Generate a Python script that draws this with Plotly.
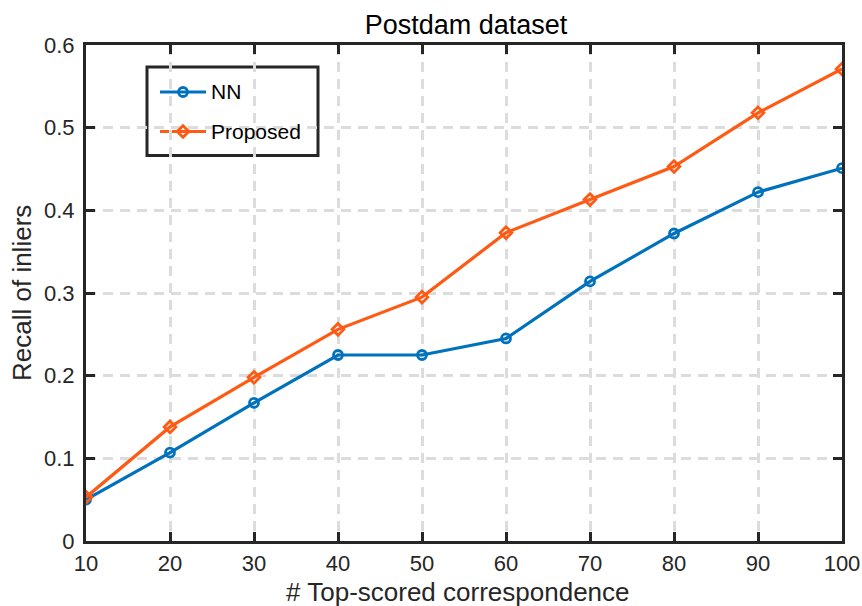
import plotly.graph_objects as go

x_vals = [10, 20, 30, 40, 50, 60, 70, 80, 90, 100]
nn_vals = [0.050, 0.107, 0.167, 0.225, 0.225, 0.245, 0.314, 0.372, 0.422, 0.451]
prop_vals = [0.053, 0.138, 0.198, 0.256, 0.295, 0.373, 0.413, 0.453, 0.518, 0.571]
x_ticks = [10, 20, 30, 40, 50, 60, 70, 80, 90, 100]
y_ticks = [0, 0.1, 0.2, 0.3, 0.4, 0.5, 0.6]
y_tick_text = ["0", "0.1", "0.2", "0.3", "0.4", "0.5", "0.6"]
series_names = ["NN", "Proposed"]

FONT = "Liberation Sans, Arial, sans-serif"
INK = "#262626"
BLUE = "#0072BD"
ORANGE = "#FF5A14"
W, H = 862, 606
ML, MR, MT, MB = 86, 20, 45, 65
PW, PH = W - ML - MR, H - MT - MB


def px(xp):
    return (xp - ML) / PW


def py(yp):
    return (H - MB - yp) / PH


circle = dict(symbol="circle-open", size=9, color=BLUE, line=dict(width=2.8, color=BLUE))
diamond = dict(symbol="diamond-open", size=9, color=ORANGE, line=dict(width=2.8, color=ORANGE))

fig = go.Figure()
fig.add_trace(go.Scatter(x=x_vals, y=nn_vals, mode="lines+markers", name=series_names[0],
                         line=dict(color=BLUE, width=3.2), marker=circle, showlegend=False))
fig.add_trace(go.Scatter(x=x_vals, y=prop_vals, mode="lines+markers", name=series_names[1],
                         line=dict(color=ORANGE, width=3.2), marker=diamond, showlegend=False))

axis_common = dict(showline=True, linecolor=INK, linewidth=3, mirror="ticks",
                   ticks="inside", ticklen=9, tickwidth=3, tickcolor=INK,
                   showgrid=True, gridcolor="#DCDCDC", griddash="10px,7px", gridwidth=3,
                   zeroline=False, automargin=False,
                   tickfont=dict(size=22, color=INK, family=FONT))

fig.update_xaxes(range=[10, 100], tickvals=x_ticks, ticktext=[str(v) for v in x_ticks],
                 ticklabelstandoff=1, **axis_common)
fig.update_yaxes(range=[0, 0.6], tickvals=y_ticks, ticktext=y_tick_text,
                 ticklabelstandoff=4, **axis_common)

# Manual legend (box, line samples, markers, labels)
leg_rows = [92, 131.5]
leg_line_x = (160, 206)
leg_mark_x = 183
fig.add_shape(type="rect", xref="paper", yref="paper", layer="between",
              x0=px(147), x1=px(318), y0=py(155.5), y1=py(67),
              line=dict(color=INK, width=3), fillcolor="white")
for row, col in zip(leg_rows, [BLUE, ORANGE]):
    fig.add_shape(type="line", xref="paper", yref="paper", layer="between",
                  x0=px(leg_line_x[0]), x1=px(leg_line_x[1]), y0=py(row), y1=py(row),
                  line=dict(color=col, width=3.2))
fig.add_trace(go.Scatter(x=[px(leg_mark_x)], y=[py(leg_rows[0])], mode="markers",
                         marker=circle, xaxis="x2", yaxis="y2", showlegend=False, hoverinfo="skip"))
fig.add_trace(go.Scatter(x=[px(leg_mark_x)], y=[py(leg_rows[1])], mode="markers",
                         marker=diamond, xaxis="x2", yaxis="y2", showlegend=False, hoverinfo="skip"))
for row, name in zip(leg_rows, series_names):
    fig.add_annotation(text=name, xref="paper", yref="paper", x=px(209), y=py(row),
                       xanchor="left", yanchor="middle", showarrow=False,
                       font=dict(size=21, color="black", family=FONT))

fig.add_annotation(text="# Top-scored correspondence", xref="paper", yref="paper",
                   x=px(458), y=py(575), xanchor="center", yanchor="top", showarrow=False,
                   font=dict(size=26, color=INK, family=FONT))
fig.add_annotation(text="Recall of inliers", xref="paper", yref="paper",
                   x=px(22), y=0.5, xanchor="center", yanchor="middle", textangle=-90,
                   showarrow=False, font=dict(size=26, color=INK, family=FONT))

fig.update_layout(
    width=W, height=H,
    margin=dict(l=ML, r=MR, t=MT, b=MB),
    paper_bgcolor="white", plot_bgcolor="white",
    title=dict(text="Postdam dataset", x=466 / W, xanchor="center",
               y=1 - 25 / H, yanchor="middle",
               font=dict(size=27, color="black", family=FONT)),
    xaxis2=dict(overlaying="x", range=[0, 1], visible=False, anchor="y2", automargin=False),
    yaxis2=dict(overlaying="y", range=[0, 1], visible=False, anchor="x2", automargin=False),
    showlegend=False,
)

fig.write_html("out.html")
